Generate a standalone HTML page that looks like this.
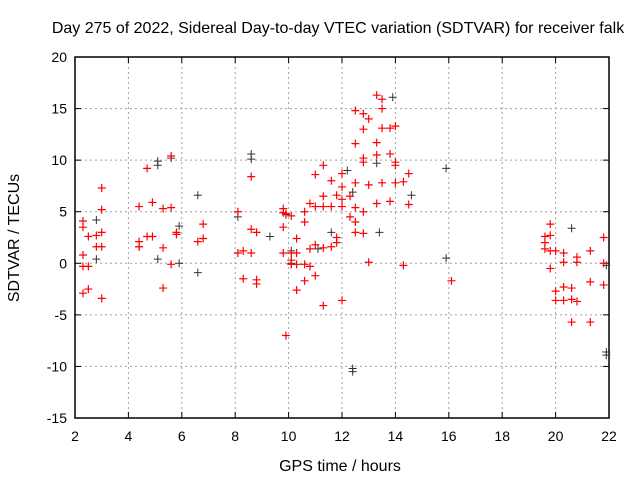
<!DOCTYPE html>
<html><head><meta charset="utf-8"><style>body{margin:0;background:#fff}svg{display:block;font-family:"Liberation Sans",sans-serif}</style></head>
<body>
<svg id="c" width="640" height="480"></svg>
<script>
const xTicks=[2,4,6,8,10,12,14,16,18,20,22];
const yTicks=[-15,-10,-5,0,5,10,15,20];
const redH=[2.3,2.3,2.3,2.3,2.3,2.5,2.5,2.5,2.8,2.8,3.0,3.0,3.0,3.0,3.0,4.4,4.4,4.4,4.7,4.7,4.9,4.9,5.3,5.3,5.3,5.6,5.6,5.6,5.8,5.8,6.6,6.8,6.8,8.1,8.1,8.3,8.3,8.6,8.6,8.6,8.8,8.8,8.8,9.8,9.8,9.9,9.8,9.8,9.9,10.1,10.1,10.1,10.1,10.3,10.3,10.3,10.3,10.6,10.6,10.6,10.6,10.8,10.8,10.8,11.0,11.0,11.0,11.0,11.3,11.3,11.3,11.3,11.3,11.6,11.6,11.6,11.8,11.8,11.8,12.0,12.0,12.0,12.0,12.0,12.3,12.3,12.5,12.5,12.5,12.5,12.5,12.5,12.8,12.8,12.8,12.8,12.8,12.8,13.0,13.0,13.0,13.3,13.3,13.3,13.3,13.5,13.5,13.5,13.5,13.8,13.8,13.8,14.0,14.0,14.0,14.0,14.3,14.3,14.5,14.5,16.1,19.6,19.6,19.6,19.8,19.8,19.8,19.8,20.0,20.0,20.0,20.3,20.3,20.3,20.3,20.6,20.6,20.6,20.8,20.8,20.8,21.3,21.3,21.3,21.8,21.8,21.8];
const redV=[4.1,3.5,0.8,-0.3,-2.9,2.6,-0.3,-2.5,1.6,2.7,7.3,5.2,3.0,1.6,-3.4,2.1,1.6,5.5,9.2,2.6,5.9,2.6,1.5,-2.4,5.3,10.4,5.4,-0.1,2.8,3.0,2.1,3.8,2.4,5.0,1.0,1.2,-1.5,8.4,3.3,1.0,3.0,-1.6,-2.0,5.3,4.9,4.8,3.5,1.0,-7.0,4.6,1.0,0.3,-0.1,2.4,1.0,-0.1,-2.6,5.0,4.0,-1.7,-0.1,5.8,1.4,-0.3,8.6,5.5,1.8,-1.2,9.5,6.5,5.5,1.5,-4.1,8.0,5.5,1.6,6.6,2.5,2.0,8.7,7.4,6.2,5.5,-3.6,6.5,4.5,14.8,11.6,7.8,5.4,4.0,3.0,14.5,13.0,10.2,9.8,5.0,2.9,14.0,7.6,0.1,16.3,11.7,10.5,5.8,15.9,15.0,13.1,7.8,13.1,10.6,6.0,13.3,9.8,9.5,7.8,7.9,-0.2,8.7,5.7,-1.7,2.6,2.0,1.4,3.8,2.7,1.2,-0.5,1.2,-2.7,-3.6,1.0,0.1,-2.3,-3.6,-2.4,-3.5,-5.7,0.6,0.1,-3.7,1.2,-1.8,-5.7,2.5,0,-2.1];
const blkH=[2.8,2.8,4.4,5.1,5.1,5.1,5.6,5.9,5.9,6.6,6.6,8.1,8.6,8.6,9.3,9.9,10.1,10.1,11.1,11.6,12.2,12.4,12.4,12.4,13.3,13.4,13.9,14.6,15.9,15.9,20.6,21.9,21.9,21.9];
const blkV=[4.2,0.4,1.6,9.9,9.5,0.4,10.2,3.6,0,6.6,-0.9,4.5,10.6,10.1,2.6,4.7,1.2,0,1.4,3.0,9.0,6.9,-10.2,-10.5,9.7,3.0,16.1,6.6,9.2,0.5,3.4,-8.6,-8.9,-0.2];
const L=75,R=609,T=57,B=418,x0=2,x1=22,y0=-15,y1=20;
const X=h=>L+(h-x0)/(x1-x0)*(R-L), Y=v=>B-(v-y0)/(y1-y0)*(B-T);
const s=document.getElementById('c'),NS='http://www.w3.org/2000/svg';
function mk(t,a,p){const e=document.createElementNS(NS,t);for(const k in a)e.setAttribute(k,a[k]);(p||s).appendChild(e);return e;}
xTicks.forEach(t=>{const x=X(t);
 if(t>x0&&t<x1){const g=mk('line',{x1:x,x2:x,y1:T,y2:B,stroke:'#a0a0a0','stroke-dasharray':'2,3'});
 
 }
 mk('line',{x1:x,x2:x,y1:B,y2:B-6,stroke:'#000'});mk('line',{x1:x,x2:x,y1:T,y2:T+6,stroke:'#000'});
 const l=mk('text',{x:x,y:B+23,'text-anchor':'middle','font-size':14});l.textContent=t;
 
 });
yTicks.forEach(t=>{const y=Y(t);
 if(t>y0&&t<y1){const g=mk('line',{x1:L,x2:R,y1:y,y2:y,stroke:'#a0a0a0','stroke-dasharray':'2,3'});
 
 }
 mk('line',{x1:L,x2:L+6,y1:y,y2:y,stroke:'#000'});mk('line',{x1:R,x2:R-6,y1:y,y2:y,stroke:'#000'});
 const l=mk('text',{x:L-8,y:y+5,'text-anchor':'end','font-size':14});l.textContent=t;
 
 });
const fr=mk('rect',{x:L,y:T,width:R-L,height:B-T,fill:'none',stroke:'#000','stroke-width':1.5});


function plus(h,v,c,w,nm){const x=X(h),y=Y(v);const p=mk('path',{d:`M${x-4} ${y}H${x+4}M${x} ${y-4}V${y+4}`,stroke:c,'stroke-width':w});
 
 }
blkH.forEach((h,i)=>plus(h,blkV[i],'#333',1,'black-point'));
redH.forEach((h,i)=>plus(h,redV[i],'#f00',1.2,'red-point'));
const tt=mk('text',{x:338,y:33,'text-anchor':'middle','font-size':16});tt.textContent='Day 275 of 2022, Sidereal Day-to-day VTEC variation (SDTVAR) for receiver falk';


const xt=mk('text',{x:340,y:471,'text-anchor':'middle','font-size':16});xt.textContent='GPS time / hours';


const yt=mk('text',{x:19,y:238,'text-anchor':'middle','font-size':16,transform:'rotate(-90 19 238)'});yt.textContent='SDTVAR / TECUs';


</script>
</body></html>
